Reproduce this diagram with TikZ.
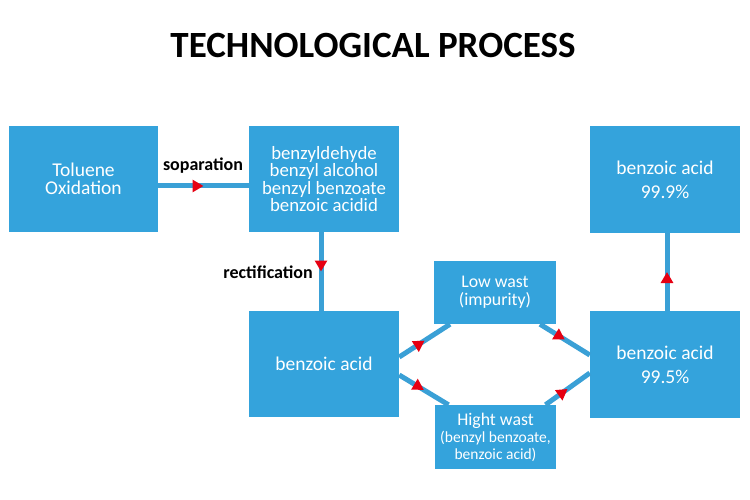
\documentclass[tikz,border=0pt]{standalone}
\usepackage{fontspec}
\setmainfont{Carlito}
\usetikzlibrary{arrows.meta,decorations.markings}
\definecolor{boxblue}{RGB}{52,163,220}
\definecolor{lineblue}{RGB}{58,160,214}
\definecolor{arrred}{RGB}{230,0,18}
\tikzset{
  procbox/.style={fill=boxblue, draw=none, inner sep=0pt, align=center, text=white},
  flow/.style={draw=lineblue, line width=5pt, postaction={decorate},
    decoration={markings, mark=at position 0.5 with {\arrow[arrred]{Triangle[width=12pt,length=11pt]}}}},
  lbl/.style={font=\bfseries\fontsize{18}{20}\selectfont, text=black, inner sep=0pt}
}
\begin{document}
\begin{tikzpicture}[x=1pt,y=1pt]
\useasboundingbox[fill=white] (0,0) rectangle (750,-500);
\node (title) at (373,-45) {\fontsize{37}{40}\selectfont\bfseries TECHNOLOGICAL PROCESS};

\node[procbox, minimum width=149pt, minimum height=106pt, font=\fontsize{19.5}{18}\selectfont] (tol) at (83.5,-179) {Toluene\\Oxidation};
\node[procbox, minimum width=150pt, minimum height=106pt, font=\fontsize{18.8}{17.5}\selectfont] (mix) at (324,-179) {benzyldehyde\\benzyl alcohol\\benzyl benzoate\\benzoic acidid};
\node[procbox, minimum width=150pt, minimum height=106pt, font=\fontsize{19.5}{18}\selectfont] (ba) at (324,-364) {benzoic acid};
\node[procbox, minimum width=122pt, minimum height=63pt, font=\fontsize{17.8}{18}\selectfont] (low) at (495,-292.5) {Low wast\\(impurity)};
\node[procbox, minimum width=121pt, minimum height=64pt, font=\fontsize{17.8}{17}\selectfont] (high) at (495.5,-437) {Hight wast\\{\fontsize{15.5}{17}\selectfont (benzyl benzoate,}\\{\fontsize{15.5}{17}\selectfont benzoic acid)}};
\node[procbox, minimum width=150pt, minimum height=107pt, font=\fontsize{19.5}{24}\selectfont] (r1) at (665,-179.5) {benzoic acid\\99.9\%};
\node[procbox, minimum width=150pt, minimum height=107pt, font=\fontsize{19.5}{24}\selectfont] (r2) at (665,-364.5) {benzoic acid\\99.5\%};

\draw[flow] ([yshift=-7pt]tol.east) -- ([yshift=-7pt]mix.west);
\draw[flow] ([xshift=-3pt]mix.south) -- ([xshift=-3pt]ba.north);
\draw[flow] ([yshift=7pt]ba.east) -- ([xshift=-45pt]low.south);
\draw[flow] ([xshift=45pt]low.south) -- ([yshift=9.5pt]r2.west);
\draw[flow] ([yshift=-11pt]ba.east) -- ([xshift=-47pt]high.north);
\draw[flow] ([xshift=50pt]high.north) -- ([yshift=-8.5pt]r2.west);
\draw[flow] ([xshift=2pt]r2.north) -- ([xshift=2pt]r1.south);

\node[lbl] (sep) at (203,-166) {soparation};
\node[lbl, anchor=east] (rect) at (313,-272) {rectification};
\end{tikzpicture}
\end{document}
